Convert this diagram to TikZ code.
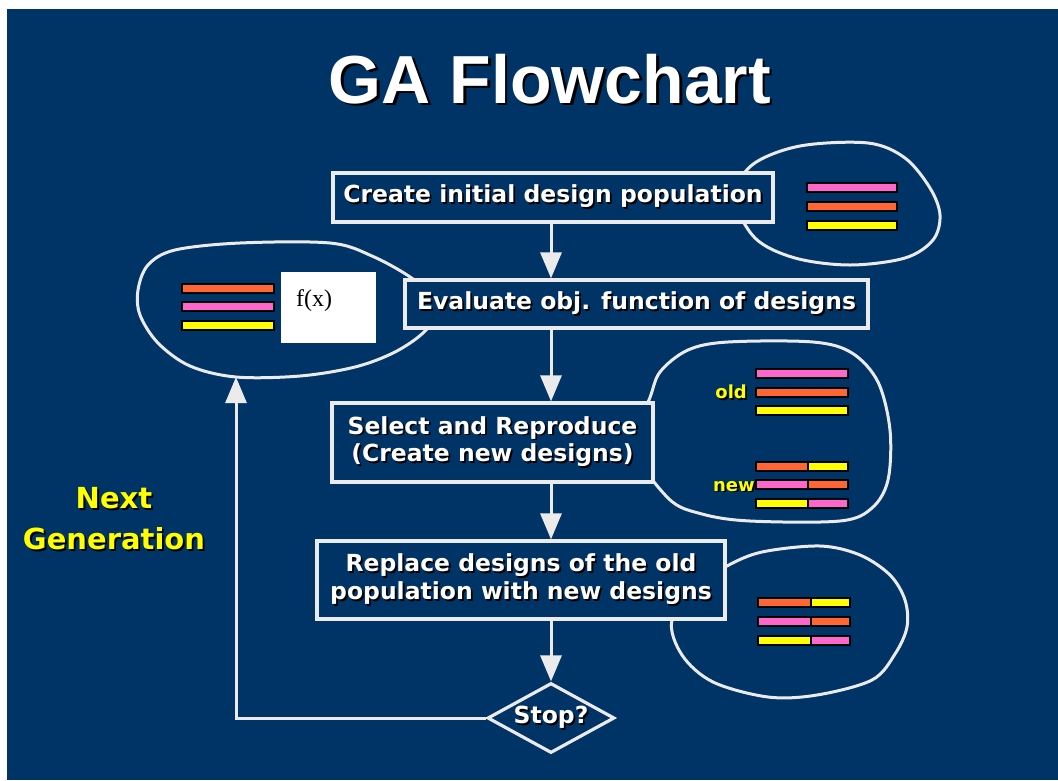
\documentclass[tikz,border=0pt]{standalone}
\usepackage{fontspec}
\setmainfont{Liberation Serif}
\newfontfamily\djf{DejaVu Sans}
\newfontfamily\lsf{Liberation Sans}
\usetikzlibrary{shapes.geometric,arrows.meta}
\definecolor{bgblue}{HTML}{003366}
\definecolor{lnwhite}{HTML}{EBEBEB}
\definecolor{gapink}{HTML}{FF66CC}
\definecolor{gaorange}{HTML}{FF6633}
\definecolor{gayellow}{HTML}{FFFF00}
\newcommand\shd[1]{\makebox[0pt][l]{\hspace{1.8pt}\raisebox{-1.8pt}{\color{black}#1}}#1}
\newcommand\shdb[1]{\makebox[0pt][l]{\hspace{2.5pt}\raisebox{-2.5pt}{\color{black}#1}}#1}
\begin{document}
\begin{tikzpicture}[x=1pt,y=-1pt,
  stepbox/.style={draw=lnwhite, line width=3.2pt, fill=bgblue, text=white, inner sep=0pt,
    font=\djf\bfseries\fontsize{23.5}{28}\selectfont, align=center},
  blob/.style={draw=lnwhite, line width=3pt},
  arr/.style={draw=lnwhite, line width=3pt, -{Triangle[width=21pt,length=26pt]}},
  gabar/.style={draw=black, line width=1.6pt},
  smalllab/.style={text=gayellow, inner sep=0pt, font=\djf\bfseries\fontsize{18}{22}\selectfont},
]
\useasboundingbox (0,0) rectangle (1058,780);
\fill[white] (0,0) rectangle (1058,780);
\fill[bgblue] (7,9) rectangle (1058,780);

% title
\node[text=white, inner sep=0pt, anchor=base, font=\lsf\bfseries\fontsize{68}{80}\selectfont] (title) at (550,103) {\shdb{GA Flowchart}};

% blobs
\draw[blob] plot[smooth cycle, tension=0.55] coordinates {(735,198) (752,165) (800,146) (868,143) (905,158) (930,188) (940,215) (933,240) (905,258) (850,265) (795,258) (755,238)};
\draw[blob] plot[smooth cycle, tension=0.55] coordinates {(148,265) (175,250) (240,243) (330,243) (372,256) (413,279) (440,305) (425,331) (395,352) (355,367) (300,376) (236,377) (190,366) (158,343) (140,315) (138,290)};
\draw[blob] plot[smooth cycle, tension=0.55] coordinates {(630,442) (649,400) (660,372) (688,350) (728,342) (813,342) (852,353) (878,382) (890,430) (888,480) (872,508) (840,521) (750,521) (702,514) (668,498)};
\draw[blob] plot[smooth cycle, tension=0.55] coordinates {(700,585) (727,566) (762,552) (820,546) (860,555) (890,575) (905,600) (907,627) (895,654) (872,680) (817,695) (768,697) (713,682) (682,655) (672,620)};

% bars
\draw[gabar, fill=gapink]   (807,183) rectangle (897,192);
\draw[gabar, fill=gaorange] (807,202) rectangle (897,211);
\draw[gabar, fill=gayellow] (807,221) rectangle (897,230);

\draw[gabar, fill=gaorange] (182,284) rectangle (274,293);
\draw[gabar, fill=gapink]   (182,302) rectangle (274,311);
\draw[gabar, fill=gayellow] (182,321) rectangle (274,330);

\draw[gabar, fill=gapink]   (756,369) rectangle (848,378);
\draw[gabar, fill=gaorange] (756,388) rectangle (848,397);
\draw[gabar, fill=gayellow] (756,406) rectangle (848,415);

\draw[gabar, fill=gaorange] (756,462) rectangle (808,471);
\draw[gabar, fill=gayellow] (808,462) rectangle (848,471);
\draw[gabar, fill=gapink]   (756,480) rectangle (808,489);
\draw[gabar, fill=gaorange] (808,480) rectangle (848,489);
\draw[gabar, fill=gayellow] (756,499) rectangle (808,508);
\draw[gabar, fill=gapink]   (808,499) rectangle (848,508);

\draw[gabar, fill=gaorange] (758,598) rectangle (811,607);
\draw[gabar, fill=gayellow] (811,598) rectangle (850,607);
\draw[gabar, fill=gapink]   (758,617) rectangle (811,626);
\draw[gabar, fill=gaorange] (811,617) rectangle (850,626);
\draw[gabar, fill=gayellow] (758,636) rectangle (811,645);
\draw[gabar, fill=gapink]   (811,636) rectangle (850,645);

\node[smalllab, anchor=east] (oldlab) at (747,393) {\shd{old}};
\node[smalllab, anchor=east] (newlab) at (755,487) {\shd{new}};

% f(x) box
\node[fill=white, minimum width=95pt, minimum height=71pt, inner sep=0pt] (fbox) at (328.5,307.5) {};
\node[anchor=west, inner sep=0pt, font=\fontsize{24}{28}\selectfont] (fx) at (296,301) {f(x)};

% flow boxes
\node[stepbox, minimum width=440pt, minimum height=49pt] (b1) at (553,197.5) {\shd{Create initial design population}};
\node[stepbox, minimum width=463pt, minimum height=48pt] (b2) at (636.5,304) {\shd{Evaluate obj. function of designs}};
\node[stepbox, minimum width=321pt, minimum height=79pt] (b3) at (492.5,442.5) {\shd{Select and Reproduce}\\\shd{(Create new designs)}};
\node[stepbox, minimum width=408pt, minimum height=78pt] (b4) at (521,580) {\shd{Replace designs of the old}\\\shd{population with new designs}};
\node[stepbox, diamond, minimum width=127pt, minimum height=70pt] (stop) at (551,718) {\makebox[0pt]{\shd{Stop?}}};

% arrows
\draw[arr] (b1.south -| stop.north) -- (b2.north -| stop.north);
\draw[arr] (b2.south -| stop.north) -- (b3.north -| stop.north);
\draw[arr] (b3.south -| stop.north) -- (b4.north -| stop.north);
\draw[arr] (b4.south -| stop.north) -- (stop.north);
\coordinate (lb) at (236,377);
\draw[arr] (stop.west) -| (lb);

% next generation
\node[text=gayellow, align=center, inner sep=0pt, font=\djf\bfseries\fontsize{29}{41}\selectfont] (nextgen) at (114,520) {\shd{Next}\\\shd{Generation}};
\end{tikzpicture}
\end{document}
